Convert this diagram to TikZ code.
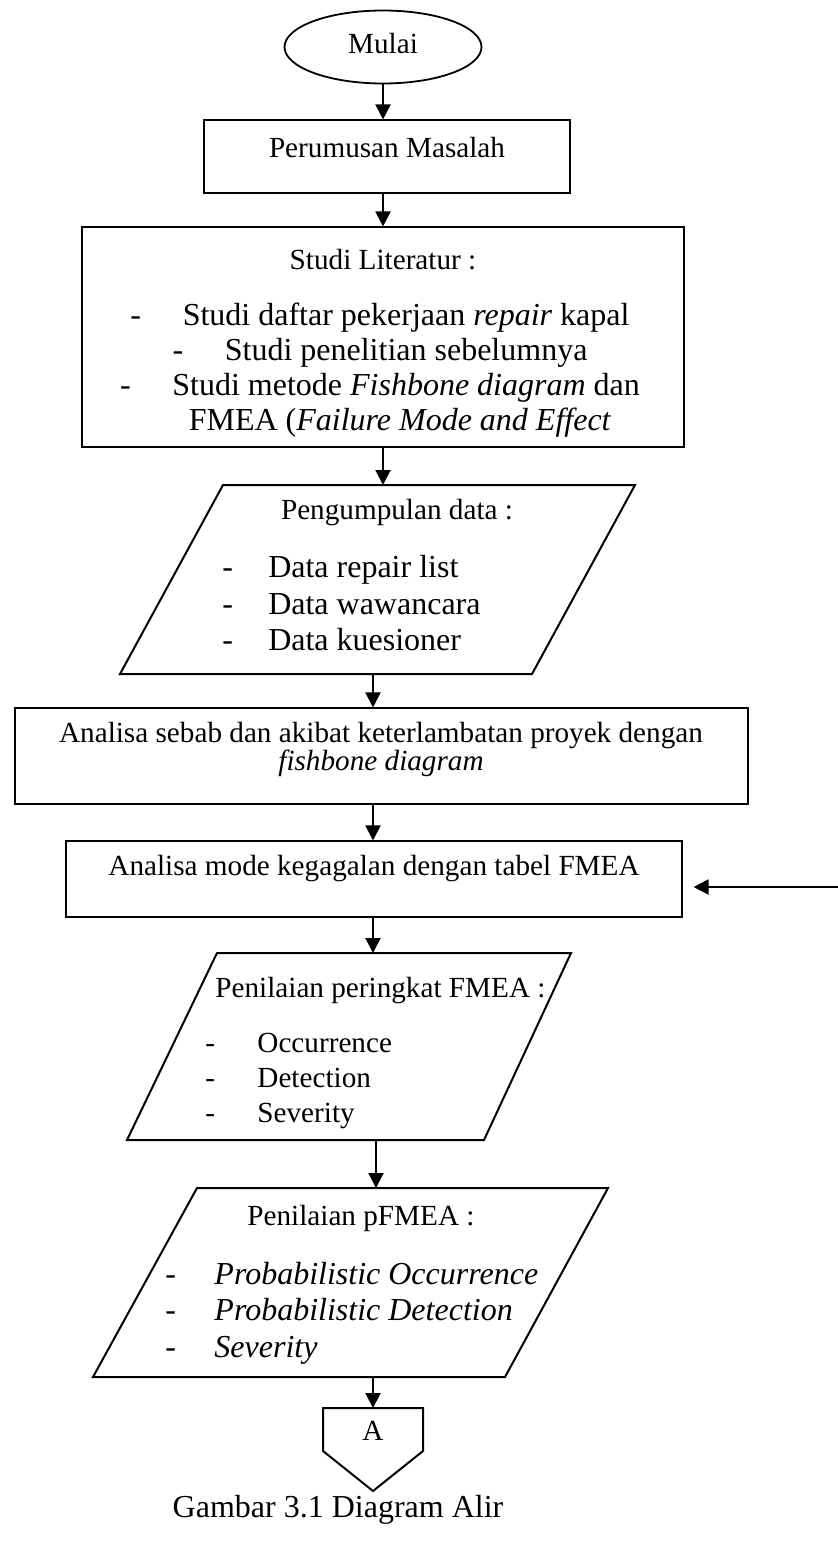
\documentclass[tikz,border=0pt]{standalone}
\usepackage{fontspec}
\setmainfont{Liberation Serif}
\usetikzlibrary{shapes.geometric,arrows.meta}
\begin{document}
\begin{tikzpicture}[x=0.5pt,y=-0.5pt,
  hd/.style={font=\fontsize{14.6}{17}\selectfont, inner sep=0pt, text height=0.8em, text depth=0.1em},
  bg/.style={font=\fontsize{16}{19}\selectfont, inner sep=0pt, text height=0.8em, text depth=0.1em},
  box/.style={draw, line width=0.55pt, inner sep=0pt},
  para/.style={draw, line width=1pt, line join=miter},
  arr/.style={line width=1pt, -{Triangle[length=7.5pt,width=7.5pt]}}]
\useasboundingbox (0,0) rectangle (838,1568);

% Start
\node[ellipse, draw, line width=0.9pt, minimum width=98.5pt, minimum height=36.5pt, inner sep=0pt, hd] (mulai) at (383,47) {Mulai};

% Perumusan Masalah
\node[box, minimum width=183pt, minimum height=36.5pt] (perumusan) at (387,156.5) {};
\node[hd] (perumusanT) at (387,150) {Perumusan Masalah};

% Studi Literatur
\node[box, minimum width=301pt, minimum height=110pt] (studi) at (383,337) {};
\node[hd] (studiT) at (383,262) {Studi Literatur :};
\node[bg] (s1) at (380,318) {-\hspace{1.3em}Studi daftar pekerjaan \textit{repair} kapal};
\node[bg] (s2) at (380,353) {-\hspace{1.3em}Studi penelitian sebelumnya};
\node[bg] (s3) at (380,388) {-\hspace{1.3em}Studi metode \textit{Fishbone diagram} dan};
\node[bg] (s4) at (400,423) {FMEA (\textit{Failure Mode and Effect}};

% Pengumpulan data
\coordinate (p1a) at (223,485);
\coordinate (p1b) at (635,485);
\coordinate (p1c) at (532,674);
\coordinate (p1d) at (120,674);
\draw[para] (p1a) -- (p1b) -- (p1c) -- (p1d) -- cycle;
\coordinate (p1in) at (383,485);
\coordinate (p1out) at (373,674);
\node[hd] (pengT) at (397,512) {Pengumpulan data :};
\node[bg, anchor=west] (d1) at (222,570) {-\hspace{1.1em}Data repair list};
\node[bg, anchor=west] (d2) at (222,607) {-\hspace{1.1em}Data wawancara};
\node[bg, anchor=west] (d3) at (222,643) {-\hspace{1.1em}Data kuesioner};

% Analisa sebab akibat
\node[box, minimum width=366.5pt, minimum height=48pt] (analisa) at (381.5,756) {};
\node[hd] (an1) at (381,735) {Analisa sebab dan akibat keterlambatan proyek dengan};
\node[hd] (an2) at (381,763) {\textit{fishbone diagram}};

% Analisa mode kegagalan
\node[box, minimum width=308pt, minimum height=38pt] (fmea) at (374,879) {};
\node[hd] (fmeaT) at (374,868) {Analisa mode kegagalan dengan tabel FMEA};
\coordinate (rightin) at (838,887);

% Penilaian peringkat FMEA
\coordinate (p2a) at (217,953);
\coordinate (p2b) at (571,953);
\coordinate (p2c) at (484,1140);
\coordinate (p2d) at (127,1140);
\draw[para] (p2a) -- (p2b) -- (p2c) -- (p2d) -- cycle;
\coordinate (p2in) at (373,953);
\coordinate (p2out) at (376,1140);
\node[hd, anchor=west] (penT) at (215,990) {Penilaian peringkat FMEA :};
\node[hd, anchor=west] (o1) at (205,1045) {-\hspace{1.45em}Occurrence};
\node[hd, anchor=west] (o2) at (205,1080) {-\hspace{1.45em}Detection};
\node[hd, anchor=west] (o3) at (205,1115) {-\hspace{1.45em}Severity};

% Penilaian pFMEA
\coordinate (p3a) at (197,1188);
\coordinate (p3b) at (608,1188);
\coordinate (p3c) at (505,1377);
\coordinate (p3d) at (93,1377);
\draw[para] (p3a) -- (p3b) -- (p3c) -- (p3d) -- cycle;
\coordinate (p3in) at (376,1188);
\coordinate (p3out) at (373,1377);
\node[hd, anchor=west] (pfT) at (247,1218) {Penilaian pFMEA :};
\node[bg, anchor=west] (q1) at (165,1277) {-\hspace{1.2em}\textit{Probabilistic Occurrence}};
\node[bg, anchor=west] (q2) at (165,1313) {-\hspace{1.2em}\textit{Probabilistic Detection}};
\node[bg, anchor=west] (q3) at (165,1350) {-\hspace{1.2em}\textit{Severity}};

% Off-page connector A
\coordinate (conTop) at (373,1408);
\draw[line width=1pt, line join=miter] (323,1408) -- (423,1408) -- (423,1451) -- (373,1491) -- (323,1451) -- cycle;
\node[hd] (conA) at (373,1433) {A};

% Caption
\node[bg] (caption) at (338,1510) {Gambar 3.1 Diagram Alir};

% Connectors
\draw[arr] (mulai.south) -- (mulai.south |- perumusan.north);
\draw[arr] (studi.north |- perumusan.south) -- (studi.north);
\draw[arr] (studi.south) -- (p1in);
\draw[arr] (p1out) -- (p1out |- analisa.north);
\draw[arr] (p1out |- analisa.south) -- (p1out |- fmea.north);
\draw[arr] (p1out |- fmea.south) -- (p2in);
\draw[arr] (p2out) -- (p3in);
\draw[arr] (p3out) -- (conTop);
\draw[arr, shorten >=5.5pt] (rightin) -- (fmea.east |- rightin);
\end{tikzpicture}
\end{document}
